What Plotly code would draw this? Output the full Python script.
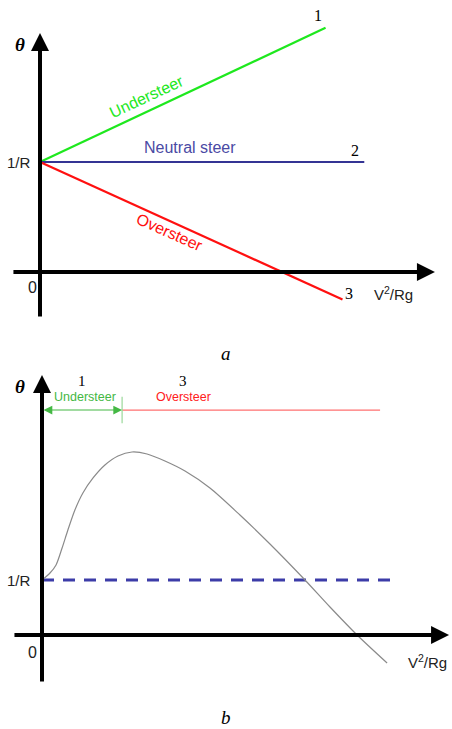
import plotly.graph_objects as go
from plotly.subplots import make_subplots

# ---- panel a: steady-state steering lines (x = V^2/Rg, y = theta, 1/R = 1)
inv_r = 1.0
under_x = [0.0, 1.18]
under_y = [inv_r, 2.22]
neutral_x = [0.0, 1.34]
neutral_y = [inv_r, inv_r]
over_x = [0.0, 1.25]
over_y = [inv_r, -0.25]

# ---- panel b: steering response curve
curve_x = [0.0, 0.033, 0.058, 0.083, 0.107, 0.136, 0.169, 0.211, 0.260, 0.314,
           0.372, 0.434, 0.508, 0.591, 0.694, 0.818, 0.942, 1.079, 1.190, 1.302, 1.426]
curve_y = [1.0, 1.127, 1.273, 1.582, 1.909, 2.273, 2.582, 2.855, 3.091, 3.255,
           3.327, 3.291, 3.164, 2.982, 2.673, 2.182, 1.655, 1.036, 0.509, 0.0, -0.509]
dash_x = [0.0, 1.438]
regime_split = 0.331
regime_end = 1.397
regime_level = 4.09

SANS = "Liberation Sans, Arial, sans-serif"
SERIF = "Liberation Serif, Times New Roman, serif"

fig = make_subplots(rows=2, cols=1, vertical_spacing=0.0,
                    row_heights=[340 / 729, 389 / 729])

# panel a lines
fig.add_trace(go.Scatter(x=under_x, y=under_y, mode="lines",
                         line=dict(color="#1ee81e", width=2.2)), row=1, col=1)
fig.add_trace(go.Scatter(x=neutral_x, y=neutral_y, mode="lines",
                         line=dict(color="#343494", width=2.2)), row=1, col=1)
fig.add_trace(go.Scatter(x=over_x, y=over_y, mode="lines",
                         line=dict(color="#ff1010", width=2.2)), row=1, col=1)

# panel b curve and reference level
fig.add_trace(go.Scatter(x=dash_x, y=[inv_r, inv_r], mode="lines",
                         line=dict(color="#3c3ca8", width=3, dash="12px,9px")),
              row=2, col=1)
fig.add_trace(go.Scatter(x=curve_x, y=curve_y, mode="lines", line_shape="spline",
                         line=dict(color="#8a8a8a", width=1.2, smoothing=0.8)),
              row=2, col=1)
fig.add_trace(go.Scatter(x=[regime_split, regime_end], y=[regime_level, regime_level],
                         mode="lines", line=dict(color="#ff7070", width=1.2)),
              row=2, col=1)
fig.add_trace(go.Scatter(x=[regime_split, regime_split], y=[3.85, 4.33],
                         mode="lines", line=dict(color="#9ad89a", width=1.2)),
              row=2, col=1)

ann = []


def axis_arrow(xref, yref, x0, y0, x1, y1):
    ann.append(dict(x=x1, y=y1, ax=x0, ay=y0, xref=xref, yref=yref,
                    axref=xref, ayref=yref, text="", showarrow=True,
                    arrowhead=2, arrowsize=0.9, arrowwidth=4,
                    arrowcolor="black", standoff=0, startstandoff=0))


def label(xref, yref, x, y, text, size=16, color="#222", family=SANS,
          angle=0, xanchor="center"):
    ann.append(dict(x=x, y=y, xref=xref, yref=yref, text=text, showarrow=False,
                    font=dict(size=size, color=color, family=family),
                    textangle=angle, xanchor=xanchor, yanchor="middle"))


# panel a axes and labels
axis_arrow("x", "y", -0.116, 0.0, 1.632, 0.0)
axis_arrow("x", "y", 0.0, -0.418, 0.0, 2.173)
label("x", "y", -0.083, 2.064, "<b><i>θ</i></b>", size=19, color="black", family=SERIF)
label("x", "y", -0.028, 1.0, "1/R", size=15, xanchor="right")
label("x", "y", -0.033, -0.145, "0", size=16)
label("x", "y", 1.149, 2.336, "1", size=16, color="black", family=SERIF)
label("x", "y", 1.302, 1.109, "2", size=16, color="black", family=SERIF)
label("x", "y", 1.277, -0.191, "3", size=16, color="black", family=SERIF)
label("x", "y", 1.459, -0.191, "V<sup>2</sup>/Rg", size=15)
label("x", "y", 0.442, 1.591, "Understeer", size=16, color="#1ee81e", angle=-25)
label("x", "y", 0.62, 1.136, "Neutral steer", size=16, color="#4a4aa4")
label("x", "y", 0.537, 0.355, "Oversteer", size=16, color="#ff1010", angle=24)
label("paper", "paper", 0.5, 1 - 353 / 729, "<i>a</i>", size=19, color="black", family=SERIF)

# panel b axes, regime arrow and labels
axis_arrow("x2", "y2", -0.12, 0.0, 1.682, 0.0)
axis_arrow("x2", "y2", 0.0, -0.873, 0.0, 4.727)
ann.append(dict(x=regime_split, y=regime_level, ax=0.0, ay=regime_level,
                xref="x2", yref="y2", axref="x2", ayref="y2", text="",
                showarrow=True, arrowhead=2, arrowside="end+start",
                arrowsize=1.6, arrowwidth=1.1, arrowcolor="#44b844",
                standoff=0, startstandoff=0))
label("x2", "y2", -0.091, 4.509, "<b><i>θ</i></b>", size=19, color="black", family=SERIF)
label("x2", "y2", 0.165, 4.62, "1", size=15, color="black", family=SERIF)
label("x2", "y2", 0.178, 4.33, "Understeer", size=12.5, color="#44b844")
label("x2", "y2", 0.583, 4.62, "3", size=15, color="black", family=SERIF)
label("x2", "y2", 0.583, 4.33, "Oversteer", size=12.5, color="#ff2020")
label("x2", "y2", -0.036, 1.0, "1/R", size=15, xanchor="right")
label("x2", "y2", -0.041, -0.309, "0", size=16)
label("x2", "y2", 1.591, -0.49, "V<sup>2</sup>/Rg", size=15)
label("paper", "paper", 0.5, 1 - 717 / 729, "<i>b</i>", size=19, color="black", family=SERIF)

axis_style = dict(showgrid=False, zeroline=False, showline=False,
                  showticklabels=False, ticks="", fixedrange=True)
fig.update_xaxes(**axis_style)
fig.update_yaxes(**axis_style)
fig.update_xaxes(range=[-40 / 242, 412 / 242], row=1, col=1)
fig.update_yaxes(range=[-68 / 110, 272 / 110], row=1, col=1)
fig.update_xaxes(range=[-42 / 242, 410 / 242], row=2, col=1)
fig.update_yaxes(range=[-94 / 55, 295 / 55], row=2, col=1)

fig.update_layout(width=452, height=729, margin=dict(l=0, r=0, t=0, b=0),
                  paper_bgcolor="white", plot_bgcolor="white",
                  showlegend=False, annotations=ann)

fig.write_html("out.html")
